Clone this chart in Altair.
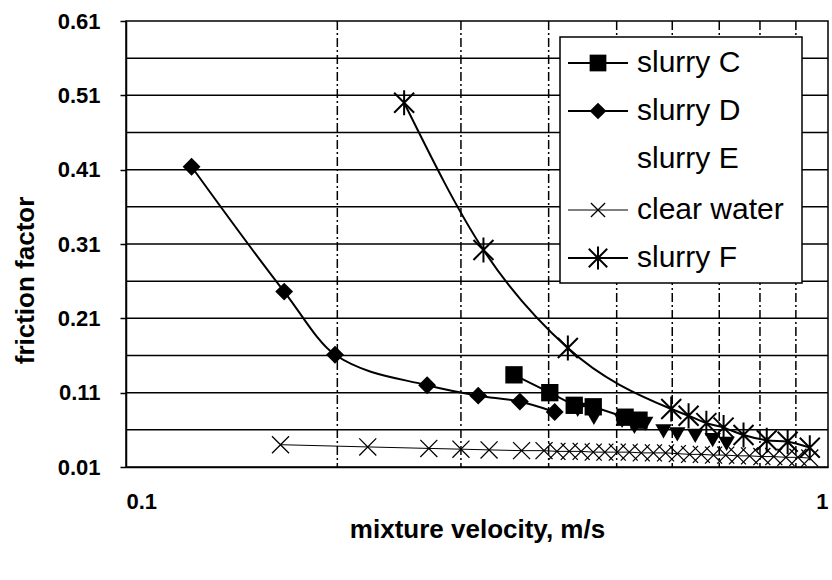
import altair as alt
import pandas as pd

# ---------------- data ----------------
c_v = [0.357, 0.4015, 0.435, 0.463, 0.514, 0.538]
c_f = [0.134, 0.110, 0.093, 0.091, 0.077, 0.073]

d_v = [0.124, 0.168, 0.1985, 0.2685, 0.3175, 0.364, 0.408]
d_f = [0.414, 0.246, 0.161, 0.120, 0.106, 0.098, 0.084]

e_v = [0.440, 0.464, 0.509, 0.530, 0.549, 0.583, 0.610, 0.647, 0.685, 0.717]
e_f = [0.087, 0.076, 0.072, 0.064, 0.068, 0.058, 0.054, 0.052, 0.046, 0.041]

w_v = [0.166, 0.221, 0.270, 0.300, 0.329, 0.366, 0.394, 0.411, 0.428, 0.445,
       0.463, 0.481, 0.501, 0.521, 0.542, 0.564, 0.587, 0.610, 0.635, 0.660,
       0.687, 0.715, 0.743, 0.773, 0.805, 0.837, 0.871, 0.906, 0.942]
w_f = [0.040, 0.037, 0.035, 0.034, 0.033, 0.032, 0.032, 0.031, 0.031, 0.031,
       0.030, 0.030, 0.030, 0.030, 0.029, 0.029, 0.029, 0.028, 0.027, 0.027,
       0.026, 0.026, 0.025, 0.025, 0.024, 0.024, 0.023, 0.023, 0.022]

f_v = [0.249, 0.323, 0.426, 0.598, 0.633, 0.671, 0.710, 0.758, 0.818, 0.876, 0.942]
f_f = [0.500, 0.302, 0.170, 0.088, 0.079, 0.069, 0.063, 0.053, 0.046, 0.044, 0.036]

x_ticks = [0.1, 1.0]
y_ticks = [0.01, 0.11, 0.21, 0.31, 0.41, 0.51, 0.61]
h_grid = [0.06, 0.11, 0.16, 0.21, 0.26, 0.31, 0.36, 0.41, 0.46, 0.51, 0.56]
v_grid = [0.2, 0.3, 0.4, 0.5, 0.6, 0.7, 0.8, 0.9]

legend_names = ["slurry C", "slurry D", "slurry E", "clear water", "slurry F"]

# ---------------- styling ----------------
FONT = "Liberation Sans"
W, H = 702, 446
X_SHAPE = "M-1,-1L1,1M-1,1L1,-1"
AST_SHAPE = "M-1,-1L1,1M-1,1L1,-1M0,-1.25L0,1.25"

xs = alt.Scale(type="log", domain=[0.1, 1.0], nice=False)
ys = alt.Scale(domain=[0.01, 0.61], nice=False, zero=False)

x_axis = alt.Axis(values=x_ticks, labelExpr="datum.value >= 1 ? '1' : '0.1'",
                  title="mixture velocity, m/s", grid=False, ticks=False,
                  labelPadding=24, labelFontSize=22, labelFontWeight="bold",
                  titleFontSize=26, titleFontWeight="bold", titleY=70,
                  titleBaseline="alphabetic", labelFlush=True)
y_axis = alt.Axis(values=y_ticks, format=".2f", title="friction factor", grid=False,
                  tickSize=6, labelPadding=20, labelFontSize=22, labelFontWeight="bold",
                  titleFontSize=26, titleFontWeight="bold", titleX=-101, titleY=259,
                  titleAngle=270, titleAlign="center", titleBaseline="middle")


def X():
    return alt.X("v:Q", scale=xs, axis=x_axis)


def Y():
    return alt.Y("f:Q", scale=ys, axis=y_axis)


def df(v, f):
    return pd.DataFrame({"v": v, "f": f})


layers = []
layers.append(alt.Chart(pd.DataFrame({"f": h_grid})).mark_rule(color="black", strokeWidth=1.5).encode(y=Y()))
layers.append(alt.Chart(pd.DataFrame({"v": v_grid})).mark_rule(
    color="black", strokeWidth=1.5, strokeDash=[9, 3, 2, 3]).encode(x=X()))

# clear water
layers.append(alt.Chart(df(w_v, w_f)).mark_line(color="black", strokeWidth=1).encode(x=X(), y=Y()))
layers.append(alt.Chart(df(w_v, w_f)).mark_point(shape=X_SHAPE, filled=False, color="black",
                                                  size=290, strokeWidth=1.3, opacity=1).encode(x=X(), y=Y()))
# slurry D
layers.append(alt.Chart(df(d_v, d_f)).mark_line(color="black", strokeWidth=2, interpolate="monotone").encode(x=X(), y=Y()))
layers.append(alt.Chart(df(d_v, d_f)).mark_point(shape="diamond", filled=True, color="black",
                                                  size=320, opacity=1).encode(x=X(), y=Y()))
# slurry C
layers.append(alt.Chart(df(c_v, c_f)).mark_line(color="black", strokeWidth=2).encode(x=X(), y=Y()))
layers.append(alt.Chart(df(c_v, c_f)).mark_point(shape="square", filled=True, color="black",
                                                  size=300, opacity=1).encode(x=X(), y=Y()))
# slurry E
layers.append(alt.Chart(df(e_v, e_f)).mark_point(shape="triangle-down", filled=True, color="black",
                                                  size=270, opacity=1).encode(x=X(), y=Y()))
# slurry F
layers.append(alt.Chart(df(f_v, f_f)).mark_line(color="black", strokeWidth=2, interpolate="monotone").encode(x=X(), y=Y()))
layers.append(alt.Chart(df(f_v, f_f)).mark_point(shape=AST_SHAPE, filled=False, color="black",
                                                  size=400, strokeWidth=2, opacity=1).encode(x=X(), y=Y()))

# ---------------- legend (drawn by hand to match the reference) ----------------
one = pd.DataFrame({"a": [0]})
layers.append(alt.Chart(one).mark_rect(fill="white", stroke="black", strokeWidth=1.5).encode(
    x=alt.value(434), x2=alt.value(676), y=alt.value(16), y2=alt.value(262)))

leg_y = [42, 90, 138, 189, 237]
leg_shape = ["square", "diamond", None, X_SHAPE, AST_SHAPE]
leg_filled = [True, True, False, False, False]
leg_size = [280, 280, 0, 200, 340]
leg_lw = [2, 2, 0, 1, 2]
for name, yy, shp, fl, sz, lw in zip(legend_names, leg_y, leg_shape, leg_filled, leg_size, leg_lw):
    if shp is not None:
        layers.append(alt.Chart(one).mark_rule(color="black", strokeWidth=lw).encode(
            x=alt.value(442), x2=alt.value(502), y=alt.value(yy)))
        layers.append(alt.Chart(one).mark_point(shape=shp, filled=fl, color="black", size=sz,
                                                strokeWidth=max(lw, 1.3), opacity=1).encode(
            x=alt.value(472), y=alt.value(yy)))
    layers.append(alt.Chart(pd.DataFrame({"label": [name]})).mark_text(
        align="left", baseline="middle", fontSize=30, font=FONT, color="black").encode(
        x=alt.value(511), y=alt.value(yy), text="label:N"))

chart = alt.layer(*layers).properties(
    width=W, height=H,
    padding={"left": 126, "top": 21, "right": 4, "bottom": 113},
    autosize=alt.AutoSizeParams(type="none"),
    background="white",
).configure_view(stroke="black", strokeWidth=1.5).configure_axis(
    domainColor="black", domainWidth=1.5, tickColor="black", tickWidth=1.5,
    labelColor="black", titleColor="black", labelFont=FONT, titleFont=FONT,
)

chart.save("out.html", embed_options={"renderer": "svg", "actions": False})
